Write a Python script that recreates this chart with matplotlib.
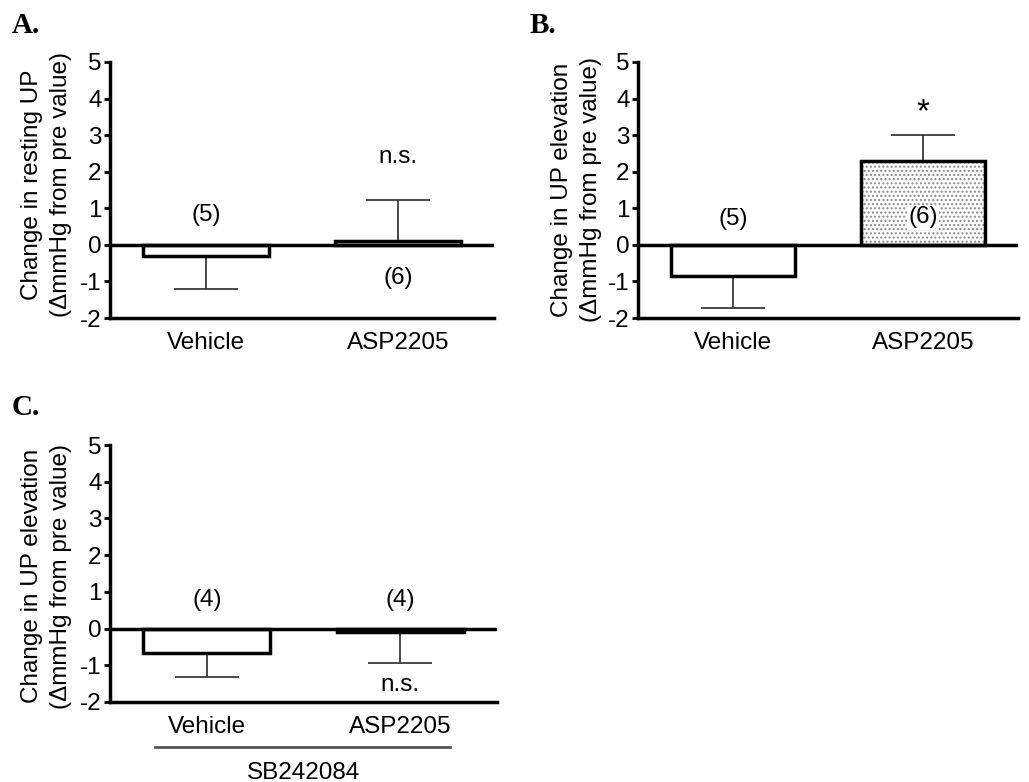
import matplotlib
matplotlib.use("Agg")
import matplotlib.pyplot as plt
import numpy as np

plt.rcParams['font.family'] = ['Liberation Sans', 'DejaVu Sans']
plt.rcParams['axes.unicode_minus'] = False

categories = ["Vehicle", "ASP2205"]
yticks = [-2, -1, 0, 1, 2, 3, 4, 5]

# Panel A
a_means = [-0.3, 0.1]
a_sem = [0.9, 1.12]
a_n = ["(5)", "(6)"]
a_n_y = [0.82, -0.9]
a_sig = ["", "n.s."]
a_sig_y = [None, 2.4]
a_ylabel = "Change in resting UP\n(\u0394mmHg from pre value)"

# Panel B
b_means = [-0.85, 2.3]
b_sem = [0.88, 0.7]
b_n = ["(5)", "(6)"]
b_n_y = [0.72, 0.75]
b_sig = ["", "*"]
b_sig_y = [None, 3.6]
b_ylabel = "Change in UP elevation\n(\u0394mmHg from pre value)"

# Panel C
c_means = [-0.66, -0.1]
c_sem = [0.67, 0.83]
c_n = ["(4)", "(4)"]
c_n_y = [0.77, 0.77]
c_sig = ["", "n.s."]
c_sig_y = [None, -1.55]
c_ylabel = "Change in UP elevation\n(\u0394mmHg from pre value)"
c_group = "SB242084"

FS = 17.5
W, H = 1029, 782
fig = plt.figure(figsize=(W / 100, H / 100), dpi=100)


def make_axes(l, r, t, b):
    return fig.add_axes([l / W, 1 - b / H, (r - l) / W, (b - t) / H])


def draw_panel(ax, means, sem, ns, ny, sig, sigy, ylabel, label_x, label_y, n_box=False):
    x = np.array([0.5, 1.5])
    width = 0.656
    lower = [s if m < 0 else 0 for m, s in zip(means, sem)]
    upper = [s if m >= 0 else 0 for m, s in zip(means, sem)]
    ax.errorbar(x, means, yerr=[lower, upper], fmt='none', ecolor='#3a3a3a',
                elinewidth=1.3, capsize=23, capthick=1.3, zorder=1)
    # vehicle bar: white
    ax.bar(x[0], means[0], width=width, color='white', edgecolor='black',
           linewidth=2.5, zorder=3)
    # ASP bar: dotted
    ax.bar(x[1], means[1], width=width, color='white', edgecolor='#8a8a8a',
           linewidth=0, hatch='....', zorder=3)
    ax.bar(x[1], means[1], width=width, color='none', edgecolor='black',
           linewidth=2.5, zorder=4)
    ax.axhline(0, color='black', lw=2.5, zorder=5)
    for xi, t, yy in zip(x, ns, ny):
        kw = {}
        if n_box and yy > 0 and t == ns[1]:
            kw = dict(bbox=dict(facecolor='white', edgecolor='none', pad=1))
        ax.text(xi, yy, t, ha='center', va='center', fontsize=FS, zorder=6, **kw)
    for xi, t, yy in zip(x, sig, sigy):
        if t:
            fs = 24 if t == "*" else FS
            ax.text(xi, yy, t, ha='center', va='center', fontsize=fs, zorder=6)
    ax.set_xlim(0, 2)
    ax.set_ylim(-2, 5)
    ax.set_yticks(yticks)
    ax.set_yticklabels([str(v) for v in yticks])
    ax.set_xticks(x)
    ax.set_xticklabels(categories)
    ax.spines['top'].set_visible(False)
    ax.spines['right'].set_visible(False)
    ax.spines['left'].set_linewidth(2.5)
    ax.spines['bottom'].set_linewidth(2.5)
    ax.tick_params(axis='y', length=4, width=2, pad=2, labelsize=FS)
    ax.tick_params(axis='x', length=0, pad=10, labelsize=FS)
    ax.set_ylabel(ylabel, fontsize=FS, linespacing=1.4)
    ax.yaxis.set_label_coords(label_x, label_y)


axA = make_axes(110, 494, 62, 318)
draw_panel(axA, a_means, a_sem, a_n, a_n_y, a_sig, a_sig_y, a_ylabel, -0.10, 0.52)

axB = make_axes(638, 1018, 62, 318)
draw_panel(axB, b_means, b_sem, b_n, b_n_y, b_sig, b_sig_y, b_ylabel, -0.095, 0.50, n_box=True)

axC = make_axes(110, 497, 445, 702)
draw_panel(axC, c_means, c_sem, c_n, c_n_y, c_sig, c_sig_y, c_ylabel, -0.098, 0.49)

axC.plot([0.116, 0.879], [-0.175, -0.175], transform=axC.transAxes, color='#555555',
         lw=2, clip_on=False)
axC.text(0.5, -0.298, c_group, transform=axC.transAxes, ha='center', va='baseline',
         fontsize=FS)

for lbl, px, py in [("A.", 12, 33), ("B.", 530, 33), ("C.", 12, 415)]:
    fig.text(px / W, 1 - py / H, lbl, fontsize=21, fontweight='bold',
             family='Liberation Serif', ha='left', va='baseline')

fig.savefig("out.png", dpi=100)
